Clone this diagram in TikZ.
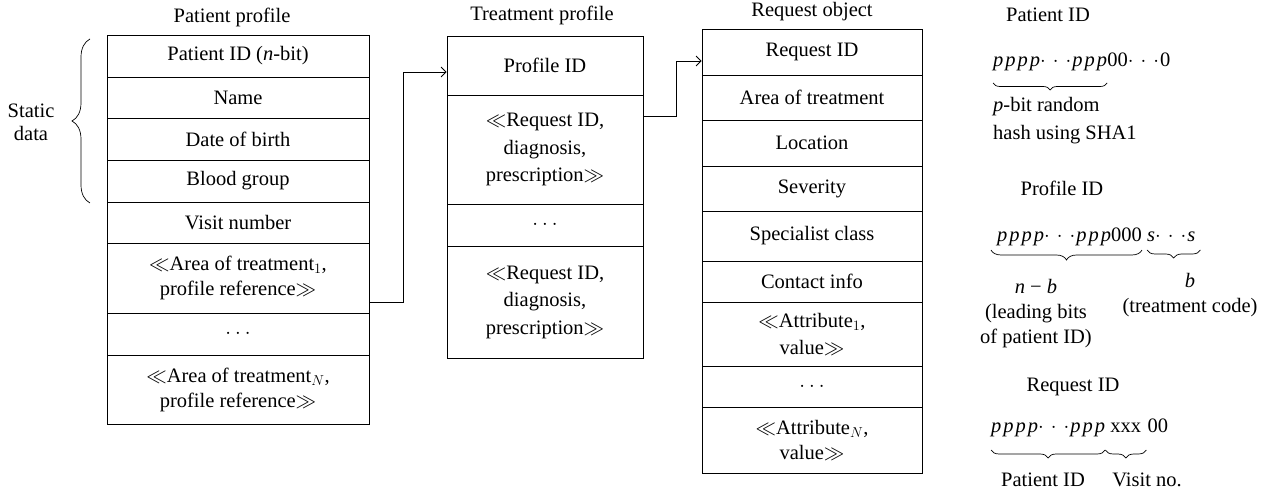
\RequirePackage{fix-cm}
\documentclass[tikz,border=0pt]{standalone}
\usepackage{fontspec}
\setmainfont{Liberation Serif}
\usetikzlibrary{arrows.meta,calc,decorations.pathreplacing}
\newcommand{\bigfont}{\fontsize{20.5}{25}\selectfont}
\newcommand{\ip}{\textit{p}\kern2pt}
\newcommand{\dts}{$\cdot$\hspace{7pt}$\cdot$\hspace{7pt}$\cdot$\kern1pt}
\newcommand{\cdts}{$\cdot$\hspace{4pt}$\cdot$\hspace{4pt}$\cdot$}
\begin{document}
\begin{tikzpicture}[x=1pt,y=-1pt,
  txt/.style={font=\bigfont, inner sep=0pt, align=center},
  cell/.style={txt, draw, line width=0.8pt},
  pcell/.style={cell, minimum width=262pt},
  tcell/.style={cell, minimum width=196pt},
  rcell/.style={cell, minimum width=220pt},
  conn/.style={line width=0.8pt, -{Straight Barb[length=5pt,width=10pt]}},
  brc/.style={line width=0.7pt, decorate, decoration={brace, mirror, amplitude=#1}},
  bits/.style={txt, anchor=base west, text height=14pt, text depth=5pt}
]
\useasboundingbox (0,0) rectangle (1272,494);

% Patient profile
\node[txt] (tpp) at (232,17) {Patient profile};
\node[pcell, minimum height=42pt] (p1) at (238,56) {Patient ID (\textit{n}-bit)};
\node[pcell, minimum height=41pt] (p2) at (238,97.5) {Name};
\node[pcell, minimum height=42pt] (p3) at (238,139) {Date of birth};
\node[pcell, minimum height=42pt] (p4) at (238,181) {Blood group};
\node[pcell, minimum height=41pt] (p5) at (238,222.5) {Visit number};
\node[pcell, minimum height=70pt] (p6) at (238,278) {$\ll$Area of treatment$_1$,\\profile reference$\gg$};
\node[pcell, minimum height=42pt] (p7) at (238,334) {\cdts};
\node[pcell, minimum height=69pt] (p8) at (238,389.5) {$\ll$Area of treatment$_N$,\\profile reference$\gg$};

\draw[line width=0.7pt, decorate, decoration={brace, amplitude=18pt}] (90,203) -- (90,39);
\node[txt, font=\fontsize{20.5}{23}\selectfont] (sd) at (31,122) {Static\\data};

% Treatment profile
\node[txt] (ttp) at (542,15) {Treatment profile};
\node[tcell, minimum height=59pt] (t1) at (545,65.5) {Profile ID};
\node[tcell, minimum height=109pt, font=\fontsize{20.5}{27.5}\selectfont] (t2) at (545,149.5) {$\ll$Request ID,\\diagnosis,\\prescription$\gg$};
\node[tcell, minimum height=42pt] (t3) at (545,225) {\cdts};
\node[tcell, minimum height=112pt, font=\fontsize{20.5}{27.5}\selectfont] (t4) at (545,302) {$\ll$Request ID,\\diagnosis,\\prescription$\gg$};

% Request object
\node[txt] (tro) at (812,12) {Request object};
\node[rcell, minimum height=46pt] (r1) at (812,52) {Request ID};
\node[rcell, minimum height=45pt] (r2) at (812,97.5) {Area of treatment};
\node[rcell, minimum height=46pt] (r3) at (812,143) {Location};
\node[rcell, minimum height=45pt] (r4) at (812,188.5) {Severity};
\node[rcell, minimum height=50pt] (r5) at (812,236) {Specialist class};
\node[rcell, minimum height=41pt] (r6) at (812,281.5) {Contact info};
\node[rcell, minimum height=64pt, font=\fontsize{20.5}{27}\selectfont] (r7) at (812,334) {$\ll$Attribute$_1$,\\value$\gg$};
\node[rcell, minimum height=41pt] (r8) at (812,386.5) {\cdts};
\node[rcell, minimum height=66pt] (r9) at (812,440) {$\ll$Attribute$_N$,\\value$\gg$};

% connectors
\coordinate (k1) at ($(p6.south east)+(0,-11)$);
\coordinate (k1e) at ($(t1.west)+(0,6.5)$);
\draw[conn] (k1) -- ++(34,0) |- (k1e);
\coordinate (k2) at ($(t2.north east)+(0,22)$);
\coordinate (k2e) at ($(r1.west)+(0,9)$);
\draw[conn] (k2) -- ++(33,0) |- (k2e);

% Patient ID format
\node[txt] (hpid) at (1048,15) {Patient ID};
\node[bits] (a1) at (993,67) {\ip\ip\ip\textit{p}\dts\ip\ip\textit{p}};
\node[bits] (a2) at (a1.base east) {00\dts0};
\draw[brc=7pt] ($(a1.base west)+(0,16)$) -- ($(a1.base east)+(0,16)$);
\node[txt, anchor=west, align=left, font=\fontsize{20.5}{28}\selectfont] (a3) at (993,121) {\textit{p}-bit random\\hash using SHA1};

% Profile ID format
\node[txt] (hprid) at (1062,188) {Profile ID};
\node[bits] (b1) at (997,242) {\ip\ip\ip\textit{p}\dts\ip\ip\textit{p}000};
\node[bits] (b2) at ($(b1.base east)+(5,0)$) {\textit{s}\dts\textit{s}};
\draw[brc=10pt] ($(b1.base west)+(-6,8)$) -- ($(b1.base east)+(0,8)$);
\draw[brc=8pt] ($(b2.base west)+(0,8)$) -- ($(b2.base east)+(5,8)$);
\node[txt] (b3) at (1036,313.5) {\textit{n} − \textit{b}\\(leading bits\\of patient ID)};
\node[txt] (b4) at (1190,295) {\textit{b}\\(treatment code)};

% Request ID format
\node[txt] (hrqid) at (1073,387) {Request ID};
\node[bits] (c1) at (991,432) {\ip\ip\ip\textit{p}\dts\ip\ip\textit{p}};
\node[bits, inner xsep=5pt] (c2) at (c1.base east) {xxx};
\node[bits] (c3) at ($(c2.base east)+(1,0)$) {00};
\draw[brc=8pt] ($(c1.base west)+(0,18)$) -- ($(c1.base east)+(0,18)$);
\draw[brc=8pt] ($(c2.base west)+(0,18)$) -- ($(c2.base east)+(0,18)$);
\node[txt] (c4) at (1043,480) {Patient ID};
\node[txt] (c5) at (1147,480) {Visit no.};
\end{tikzpicture}
\end{document}
